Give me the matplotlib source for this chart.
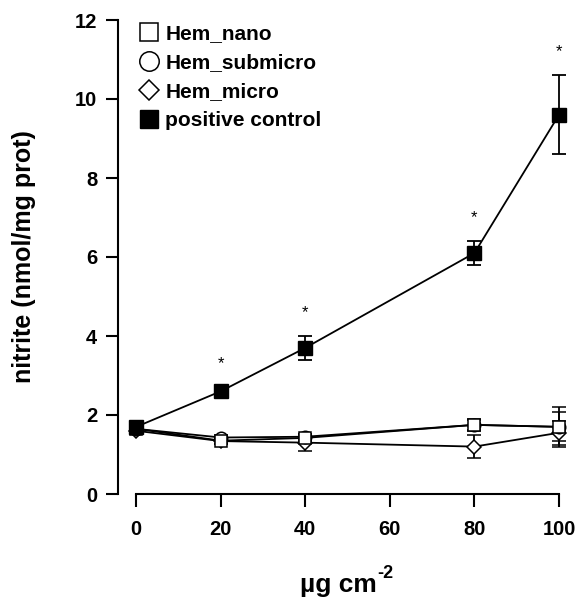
import matplotlib.pyplot as plt
from matplotlib.lines import Line2D

plt.rcParams['font.family'] = ['Liberation Sans', 'DejaVu Sans']
plt.rcParams['font.weight'] = 'bold'

dose = [0, 20, 40, 80, 100]

nano = [1.65, 1.35, 1.42, 1.75, 1.70]
nano_err = [0.05, 0.08, 0.08, 0.15, 0.50]
submicro = [1.65, 1.43, 1.45, 1.75, 1.70]
submicro_err = [0.05, 0.06, 0.06, 0.12, 0.37]
micro = [1.60, 1.34, 1.30, 1.20, 1.55]
micro_err = [0.05, 0.08, 0.22, 0.30, 0.30]
pos = [1.70, 2.60, 3.70, 6.10, 9.60]
pos_err = [0.10, 0.10, 0.30, 0.30, 1.00]
signif = [False, True, True, True, True]

labels = ['Hem_nano', 'Hem_submicro', 'Hem_micro', 'positive control']

fig = plt.figure(figsize=(5.81, 5.98), dpi=100)
ax = fig.add_axes([118/581, 1-494/598, (559-118)/581, (494-20)/598])

common = dict(color='black', lw=1.3, capsize=5, elinewidth=1.3, capthick=1.3, clip_on=False)
ax.errorbar(dose, micro, yerr=micro_err, marker='D', ms=7, mfc='white', mec='black', mew=1.1, **common)
ax.errorbar(dose, submicro, yerr=submicro_err, marker='o', ms=9, mfc='white', mec='black', mew=1.1, **common)
ax.errorbar(dose, nano, yerr=nano_err, marker='s', ms=9, mfc='white', mec='black', mew=1.1, **common)
ax.errorbar(dose, pos, yerr=pos_err, marker='s', ms=10, mfc='black', mec='black', **common)

# significance stars above the positive control
for x, y, e, s in zip(dose, pos, pos_err, signif):
    if s:
        ax.text(x, y + e + 0.6, '*', ha='center', va='center', fontsize=12, fontweight='normal')

ax.set_xlim(-4.3, 100)
ax.set_ylim(0, 12)
ax.set_xticks([0, 20, 40, 60, 80, 100])
ax.set_yticks([0, 2, 4, 6, 8, 10, 12])
ax.spines['top'].set_visible(False)
ax.spines['right'].set_visible(False)
ax.spines['bottom'].set_bounds(0, 100)
for sp in ['left', 'bottom']:
    ax.spines[sp].set_linewidth(1.5)
ax.tick_params(direction='out', length=9, width=1.5, labelsize=14.5)
ax.tick_params(axis='x', pad=10)
ax.tick_params(axis='y', pad=6)
for lab in ax.get_xticklabels() + ax.get_yticklabels():
    lab.set_fontweight('bold')

ax.set_ylabel('nitrite (nmol/mg prot)', fontsize=18, fontweight='bold', labelpad=28)
xl = ax.set_xlabel('µg cm', fontsize=19, fontweight='bold', labelpad=24)
ax.annotate('-2', xy=(1.0, 0.62), xycoords=xl, fontsize=13, fontweight='bold',
            ha='left', va='bottom')

handles = [
    Line2D([], [], ls='none', marker='s', ms=13, mfc='white', mec='black', mew=1.1),
    Line2D([], [], ls='none', marker='o', ms=14, mfc='white', mec='black', mew=1.1),
    Line2D([], [], ls='none', marker='D', ms=10, mfc='white', mec='black', mew=1.1),
    Line2D([], [], ls='none', marker='s', ms=13, mfc='black', mec='black'),
]
ax.legend(handles, labels, loc='upper left', bbox_to_anchor=(136/581, 1-22/598),
          bbox_transform=fig.transFigure, frameon=False,
          prop={'size': 15, 'weight': 'bold'}, handlelength=1.0, handletextpad=0.3,
          labelspacing=0.48, borderaxespad=0, borderpad=0.1)

fig.savefig('out.png', dpi=100)
